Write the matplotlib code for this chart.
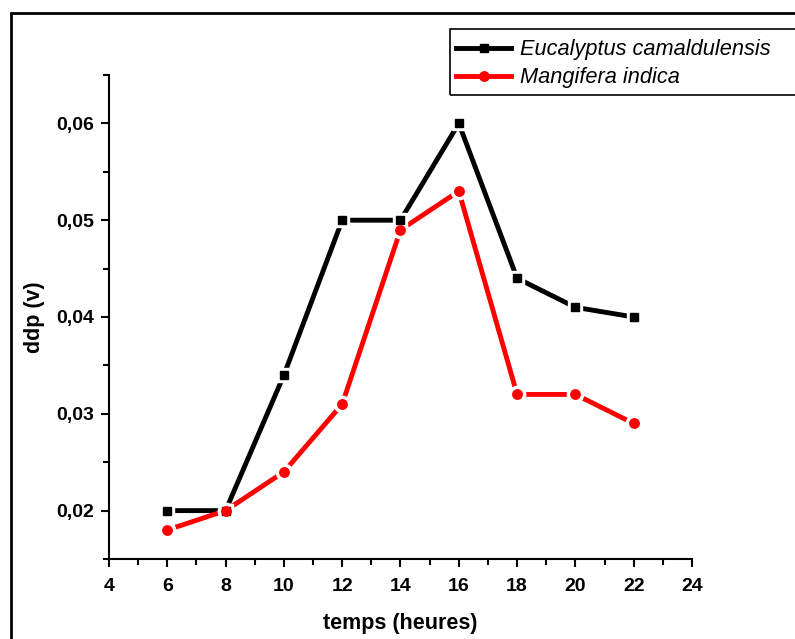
import matplotlib.pyplot as plt
from matplotlib.patches import Rectangle
from matplotlib.ticker import MultipleLocator, FuncFormatter

# data
heures = [6, 8, 10, 12, 14, 16, 18, 20, 22]
eucalyptus = [0.020, 0.020, 0.034, 0.050, 0.050, 0.060, 0.044, 0.041, 0.040]
mangifera = [0.018, 0.020, 0.024, 0.031, 0.049, 0.053, 0.032, 0.032, 0.029]

plt.rcParams['font.family'] = ['Liberation Sans', 'DejaVu Sans']

W, H = 795, 639
fig = plt.figure(figsize=(W / 100, H / 100), dpi=100)
ax = fig.add_axes([109 / W, (H - 559) / H, (692 - 109) / W, (559 - 75) / H])

# outer frame (runs off the right and bottom edge)
fig.patches.append(Rectangle((11 / W, -0.05), 1.0, 1 - 13 / H + 0.05,
                             transform=fig.transFigure, fill=False,
                             edgecolor='black', linewidth=2, zorder=0))
# legend box, also running off the right edge
fig.patches.append(Rectangle((450 / W, 1 - 95 / H), 0.5, 66 / H,
                             transform=fig.transFigure, fill=False,
                             edgecolor='black', linewidth=1.2, zorder=5))

series = [
    (eucalyptus, 'black', 's', 5.5, 'Eucalyptus camaldulensis'),
    (mangifera, 'red', 'o', 6.8, 'Mangifera indica'),
]
for vals, col, mk, ms, lab in series:
    ax.plot(heures, vals, color=col, lw=3.5, marker=mk, ms=ms, mec=col,
            label=lab, zorder=2)
    # white halo gives the Origin-style gap between line and marker
    ax.plot(heures, vals, ls='none', marker=mk, ms=ms + 5, mfc='white',
            mec='white', zorder=3)
    ax.plot(heures, vals, ls='none', marker=mk, ms=ms, mfc=col,
            mec=col, zorder=4)

ax.set_xlim(4, 24)
ax.set_ylim(0.015, 0.065)
ax.xaxis.set_major_locator(MultipleLocator(2))
ax.xaxis.set_minor_locator(MultipleLocator(1))
ax.yaxis.set_major_locator(MultipleLocator(0.01))
ax.yaxis.set_minor_locator(MultipleLocator(0.005))
ax.yaxis.set_major_formatter(FuncFormatter(lambda v, p: ('%.2f' % v).replace('.', ',')))

for s in ['top', 'right']:
    ax.spines[s].set_visible(False)
for s in ['left', 'bottom']:
    ax.spines[s].set_linewidth(1.5)
ax.tick_params(which='major', direction='out', length=6, width=1.5,
               labelsize=14, pad=5)
ax.tick_params(axis='x', which='major', pad=8)
ax.tick_params(which='minor', direction='out', length=4, width=1.5)
for t in ax.get_xticklabels() + ax.get_yticklabels():
    t.set_fontweight('bold')

ax.set_xlabel('temps (heures)', fontsize=15.5, fontweight='bold', labelpad=13)
ax.set_ylabel('ddp (v)', fontsize=15.5, fontweight='bold', labelpad=8)

leg = ax.legend(loc='upper left', bbox_to_anchor=(452 / W, 1 - 35 / H),
                bbox_transform=fig.transFigure, prop={'style': 'italic', 'size': 15.7},
                frameon=False, handlelength=2.5, handletextpad=0.4,
                labelspacing=0.32, borderpad=0.2, borderaxespad=0)

fig.savefig('out.png', dpi=100)
